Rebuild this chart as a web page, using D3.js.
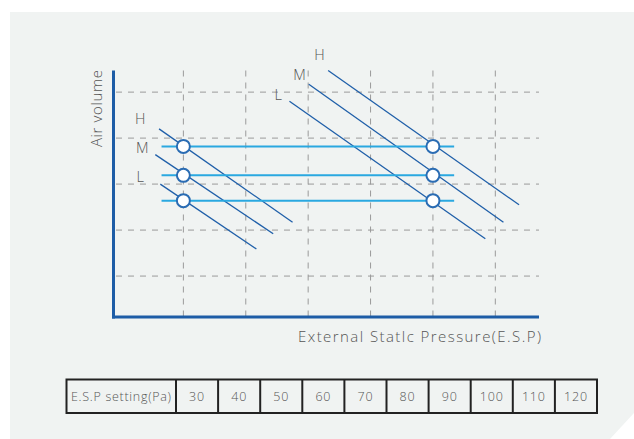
<!DOCTYPE html>
<html><head><meta charset="utf-8">
<script src="https://cdn.jsdelivr.net/npm/d3@7"></script>
<style>
html,body{margin:0;padding:0;background:#fff;}
svg{display:block;font-family:"Open Sans","DejaVu Sans",sans-serif;}
</style></head>
<body><svg id="c" width="634" height="439"></svg>
<script>
// ---- data ----
const gridX = [1, 2, 3, 4, 5, 6];
const gridY = [1, 2, 3, 4, 5];
const speeds = ["H", "M", "L"];
const pointLevels = [3.82, 3.19, 2.64];          // air volume of each speed at set points
const setPointsX = [1, 5];                        // operating ESP positions
const levelLineX = [0.65, 5.34];                  // extent of horizontal level lines
// fan curves: [x0, y0, x1, y1]
const lowCurves = [[0.61, 4.20, 2.75, 2.17], [0.55, 3.64, 2.44, 1.92], [0.63, 3.00, 2.17, 1.59]];
const highCurves = [[3.32, 5.47, 6.38, 2.55], [3.01, 5.17, 6.13, 2.17], [2.70, 4.80, 5.84, 1.81]];
const lowLabelPos = [[0.31, 4.42], [0.34, 3.79], [0.31, 3.16]];
const highLabelPos = [[3.18, 5.80], [2.86, 5.38], [2.52, 4.94]];
const tableHeader = "E.S.P setting(Pa)";
const espSettings = ["30", "40", "50", "60", "70", "80", "90", "100", "110", "120"];
const xTitle = "External Statlc Pressure(E.S.P)";
const yTitle = "Air volume";

const svg = d3.select("#c");
// panel
svg.append("path").attr("d", "M10,12 H634 V413 L610,439 H10 Z").attr("fill", "#f0f3f2");

const x = d3.scaleLinear().domain([-0.12, 6.7]).range([113.5, 539]);
const y = d3.scaleLinear().domain([0.11, 5.47]).range([317, 70.5]);

const g = svg.append("g");
// grid
g.selectAll("line.gx").data(gridX).join("line")
  .attr("x1", d => x(d)).attr("x2", d => x(d)).attr("y1", y(5.47)).attr("y2", y(0.11))
  .attr("stroke", "#9a9a9a").attr("stroke-width", 1).attr("stroke-dasharray", "6,6");
g.selectAll("line.gy").data(gridY).join("line")
  .attr("y1", d => y(d)).attr("y2", d => y(d)).attr("x1", x(-0.08)).attr("x2", x(6.7))
  .attr("stroke", "#9a9a9a").attr("stroke-width", 1).attr("stroke-dasharray", "6,6");

// axes
g.append("line").attr("x1", x(-0.12)).attr("x2", x(-0.12)).attr("y1", y(5.47)).attr("y2", y(0.11) + 1.5)
  .attr("stroke", "#1d5ca6").attr("stroke-width", 3);
g.append("line").attr("x1", x(-0.12) - 1.5).attr("x2", x(6.7)).attr("y1", y(0.11)).attr("y2", y(0.11))
  .attr("stroke", "#1d5ca6").attr("stroke-width", 3);

// fan curves
g.selectAll("line.fc").data(lowCurves.concat(highCurves)).join("line")
  .attr("x1", d => x(d[0])).attr("y1", d => y(d[1])).attr("x2", d => x(d[2])).attr("y2", d => y(d[3]))
  .attr("stroke", "#1f5fa9").attr("stroke-width", 1.3);

// level lines
g.selectAll("line.lv").data(pointLevels).join("line")
  .attr("x1", x(levelLineX[0])).attr("x2", x(levelLineX[1])).attr("y1", d => y(d)).attr("y2", d => y(d))
  .attr("stroke", "#2aa8e0").attr("stroke-width", 2);

// points
const pts = [];
setPointsX.forEach(px => pointLevels.forEach(py => pts.push([px, py])));
g.selectAll("circle").data(pts).join("circle")
  .attr("cx", d => x(d[0])).attr("cy", d => y(d[1])).attr("r", 6.5)
  .attr("fill", "#fff").attr("stroke", "#2a6cb3").attr("stroke-width", 2);

// labels
const lab = lowLabelPos.map((p, i) => ({p, t: speeds[i]})).concat(highLabelPos.map((p, i) => ({p, t: speeds[i]})));
g.selectAll("text.sp").data(lab).join("text")
  .attr("x", d => x(d.p[0])).attr("y", d => y(d.p[1])).attr("text-anchor", "middle").attr("dy", "0.35em")
  .attr("font-size", 14.5).attr("font-weight", 300).attr("fill", "#555").text(d => d.t);

// axis titles
svg.append("text").attr("x", 298).attr("y", 337).attr("dy", "0.35em").attr("font-size", 15)
  .attr("font-weight", 300).attr("textLength", 243).attr("lengthAdjust", "spacing")
  .attr("fill", "#555").text(xTitle);
svg.append("text").attr("transform", "translate(97,108.5) rotate(-90)").attr("text-anchor", "middle")
  .attr("dy", "0.35em").attr("font-size", 15).attr("font-weight", 300)
  .attr("textLength", 77).attr("lengthAdjust", "spacing").attr("fill", "#555").text(yTitle);

// table
const tx = d3.scaleBand().domain(d3.range(espSettings.length)).range([176, 597]);
const tTop = 379.5, tBot = 413;
const tb = svg.append("g");
tb.append("rect").attr("x", 66.5).attr("y", tTop).attr("width", 597 - 66.5).attr("height", tBot - tTop)
  .attr("fill", "none").attr("stroke", "#222").attr("stroke-width", 2);
tb.selectAll("line").data(d3.range(espSettings.length)).join("line")
  .attr("x1", d => tx(d)).attr("x2", d => tx(d)).attr("y1", tTop).attr("y2", tBot)
  .attr("stroke", "#222").attr("stroke-width", 2);
tb.append("text").attr("x", 71).attr("y", (tTop + tBot) / 2).attr("dy", "0.35em")
  .attr("font-size", 12.5).attr("font-weight", 300).attr("textLength", 100).attr("lengthAdjust", "spacing")
  .attr("fill", "#555").text(tableHeader);
tb.selectAll("text.v").data(espSettings).join("text")
  .attr("x", (d, i) => tx(i) + tx.bandwidth() / 2).attr("y", (tTop + tBot) / 2).attr("dy", "0.35em")
  .attr("text-anchor", "middle").attr("font-size", 12.5).attr("font-weight", 300)
  .attr("letter-spacing", 0.8).attr("fill", "#555").text(d => d);
</script></body></html>
